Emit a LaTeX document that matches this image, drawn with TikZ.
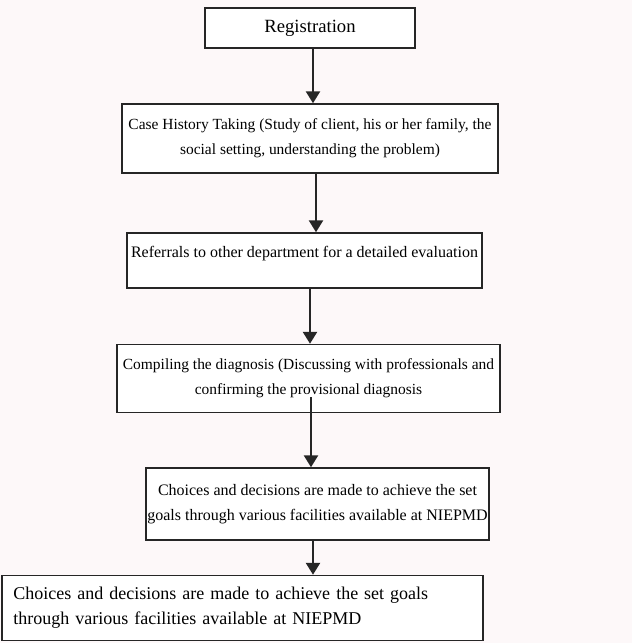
\documentclass[tikz,border=0pt]{standalone}
\usepackage{fontspec}
\setmainfont{Liberation Serif}
\usetikzlibrary{arrows.meta}
\definecolor{edge} {HTML}{262626}
\definecolor{paper}{HTML}{FDF8F9}
\tikzset{
  stage/.style={draw=edge,line width=1.1pt,fill=white,align=center,
    inner sep=0pt,font=\fontsize{12}{18.5}\selectfont},
  flow/.style={edge,line width=1.9pt,-{Triangle[width=10.5pt,length=9pt]}}
}
\begin{document}
\begin{tikzpicture}[x=0.75pt,y=-0.75pt]
    \fill[paper] (0,0) rectangle (632,643);
    \useasboundingbox (0,0) rectangle (632,643);

    % stages of the procedure
    \node[stage,minimum width=157.5pt,minimum height=30pt,font=\fontsize{14}{17}\selectfont] (reg) at (310,28) {Registration};
    \node[stage,minimum width=282pt,minimum height=51.75pt,font=\fontsize{11.6}{18.5}\selectfont] (hist) at (310,138.5)
      {Case History Taking (Study of client, his or her family, the\\social setting, understanding the problem)};
    \node[stage,minimum width=266.25pt,minimum height=41.25pt,text depth=12.5pt] (refer) at (304.5,260.5)
      {Referrals to other department for a detailed evaluation};
    \node[stage,minimum width=287.25pt,minimum height=51pt,font=\fontsize{11.6}{18.5}\selectfont] (diag) at (308.5,378.5)
      {Compiling the diagnosis (Discussing with professionals and\\confirming the provisional diagnosis};
    \node[stage,minimum width=257.25pt,minimum height=54pt,font=\fontsize{12}{18.8}\selectfont] (choice) at (317.5,504)
      {Choices and decisions are made to achieve the set\\goals through various facilities available at NIEPMD};
    \node[stage,align=left,text width=343.75pt,inner xsep=8.5pt,minimum height=48.75pt,font=\fontsize{13.5}{18.8}\selectfont] (final) at (242.5,608)
      {Choices and decisions are made to achieve the set goals\\through various facilities available at NIEPMD};

    % arrows
    \draw[flow] (reg.south -| 313,0) -- (hist.north -| 313,0);
    \draw[flow] (hist.south -| 316,0) -- (refer.north -| 316,0);
    \draw[flow] (refer.south -| 310,0) -- (diag.north -| 310,0);
    \draw[flow] ([yshift=12pt]diag.south -| 311,0) -- (choice.north -| 311,0);
    \draw[flow] (choice.south -| 313,0) -- (final.north -| 313,0);
\end{tikzpicture}
\end{document}
